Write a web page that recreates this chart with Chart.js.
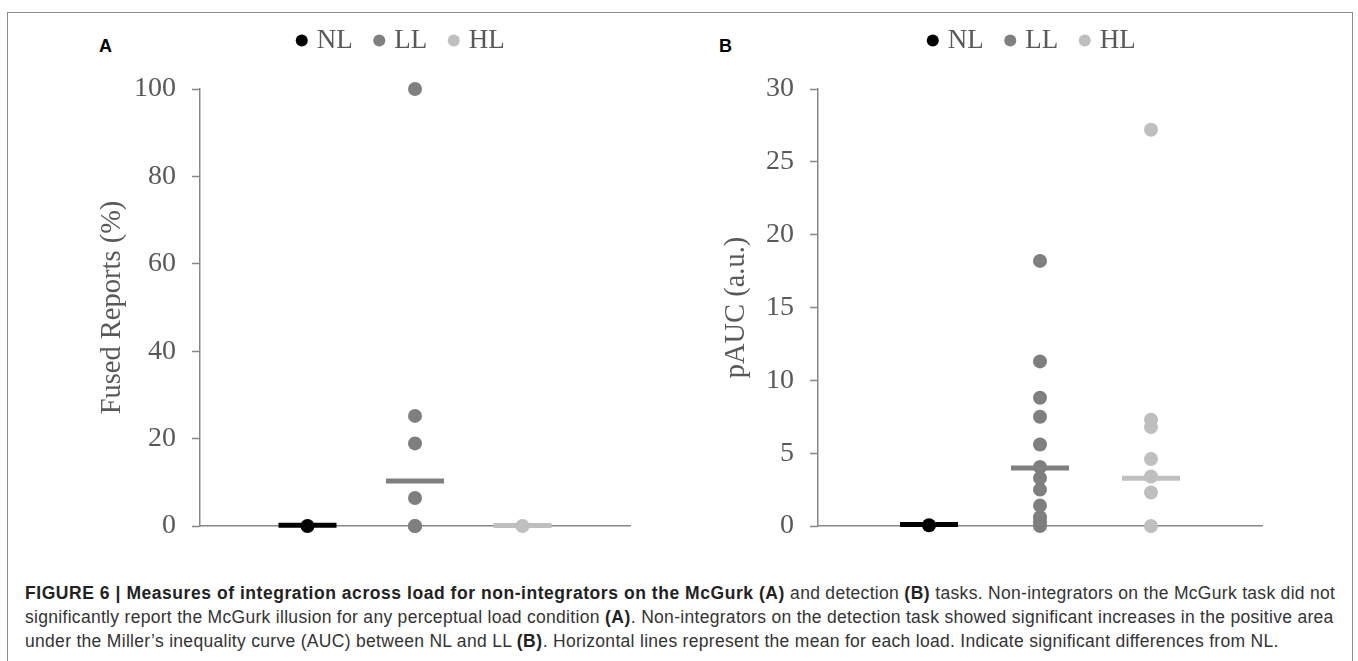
<!DOCTYPE html>
<html>
<head>
<meta charset="utf-8">
<script src="https://cdn.jsdelivr.net/npm/chart.js@4.4.0/dist/chart.umd.min.js"></script>
<style>
  body { margin: 0; width: 1358px; height: 661px; background: #fff; overflow: hidden; position: relative; }
  #frame { position: absolute; left: 7px; top: 12px; width: 1344px; height: 660px;
           border: 1.5px solid #8a8a8a; border-bottom: none; }
  canvas { position: absolute; }
  .panel-label { position: absolute; font: bold 18px "Liberation Sans", Arial, sans-serif; color: #000; }
  #caption { position: absolute; left: 25px; top: 581px; font: 17.5px/24px "Liberation Sans", Arial, sans-serif;
             letter-spacing: 0.3px; color: #333; white-space: nowrap; }
  #caption b { color: #222; letter-spacing: 0.55px; }
</style>
</head>
<body>
<div id="frame"></div>
<div class="panel-label" style="left:99px;top:36px">A</div>
<div class="panel-label" style="left:719px;top:36px">B</div>
<canvas id="chartA" width="625" height="560" style="left:90px;top:0"></canvas>
<canvas id="chartB" width="631" height="560" style="left:718px;top:0"></canvas>
<div id="caption">
  <div><b>FIGURE 6 | Measures of integration across load for non-integrators on the McGurk (A)</b> and detection <b>(B)</b> tasks. Non-integrators on the McGurk task did not</div>
  <div>significantly report the McGurk illusion for any perceptual load condition <b>(A)</b>. Non-integrators on the detection task showed significant increases in the positive area</div>
  <div>under the Miller’s inequality curve (AUC) between NL and LL <b>(B)</b>. Horizontal lines represent the mean for each load. Indicate significant differences from NL.</div>
</div>
<script>
const loads = ['NL', 'LL', 'HL'];
const loadColors = ['#000000', '#7f7f7f', '#bfbfbf'];

// A: McGurk task, fused reports (%)
const fusedNL = [0];
const fusedLL = [100, 25.2, 18.9, 6.4, 0, 0];
const fusedHL = [0];
const fusedMeans = [0.2, 10.3, 0.1];
const fusedTicks = [0, 20, 40, 60, 80, 100];

// B: detection task, pAUC
const aucNL = [0.05];
const aucLL = [18.2, 11.3, 8.8, 7.5, 5.6, 4.05, 3.3, 2.5, 1.4, 0.6, 0.3, 0];
const aucHL = [27.2, 7.3, 6.8, 4.6, 3.4, 2.3, 0];
const aucMeans = [0.1, 3.98, 3.28];
const aucTicks = [0, 5, 10, 15, 20, 25, 30];

const axisColor = '#878787';
const textColor = '#595959';
const serif = 'Liberation Serif';

function makePanel(id, groups, means, ticks, yTitle, yWidth, rightWidth, titlePad) {
  var datasets = []
  // mean lines first so they sit on top of the dots
  means.forEach(function (m, i) {
    datasets.push({
      label: loads[i] + ' mean',
      data: [{x: i + 1, y: m}],
      pointStyle: 'line',
      pointRadius: 29,
      pointHoverRadius: 29,
      pointBorderWidth: 5,
      pointHoverBorderWidth: 5,
      pointBorderColor: loadColors[i],
      pointBackgroundColor: loadColors[i],
      showLine: false,
      clip: false
    })
  })
  groups.forEach(function (vals, i) {
    datasets.push({
      label: loads[i],
      data: vals.map(function (v) { return {x: i + 1, y: v} }),
      pointStyle: 'circle',
      pointRadius: 7,
      pointHoverRadius: 7,
      pointBorderWidth: 0,
      pointBackgroundColor: loadColors[i],
      backgroundColor: loadColors[i],
      borderColor: loadColors[i],
      showLine: false,
      clip: false
    })
  })

  return new Chart(document.getElementById(id), {
    type: 'scatter',
    data: {datasets: datasets},
    options: {
      responsive: false,
      animation: false,
      events: [],
      layout: {padding: {top: 2, left: 0, right: 0, bottom: 0}},
      plugins: {
        tooltip: {enabled: false},
        legend: {
          position: 'top',
          labels: {
            usePointStyle: true,
            boxWidth: 3,
            boxHeight: 8.5,
            padding: 25,
            color: textColor,
            font: {family: serif, size: 27},
            filter: function (item) { return item.datasetIndex >= loads.length }
          }
        },
        // empty title used as a gap between legend and plot
        title: {display: true, text: '', weight: 500, font: {size: 10}, padding: {top: 0, bottom: 13}}
      },
      scales: {
        x: {
          type: 'linear',
          min: 0,
          max: loads.length + 1,
          ticks: {display: false},
          grid: {display: false},
          border: {display: true, color: axisColor, width: 1.5},
          afterFit: function (s) { s.height = 27 }
        },
        y: {
          type: 'linear',
          position: 'left',
          min: ticks[0],
          max: ticks[ticks.length - 1],
          ticks: {stepSize: ticks[1] - ticks[0], color: textColor, padding: 16, font: {family: serif, size: 28}},
          grid: {drawOnChartArea: false, drawTicks: true, tickLength: 8, tickColor: axisColor, tickWidth: 1.5},
          border: {display: true, color: axisColor, width: 1.5},
          title: {display: true, text: yTitle, color: textColor, font: {family: serif, size: 28.5}, padding: {top: titlePad, bottom: 0}},
          afterFit: function (s) { s.width = yWidth }
        },
        pad: {
          type: 'linear',
          position: 'right',
          ticks: {display: false},
          grid: {display: false},
          border: {display: false},
          afterFit: function (s) { s.width = rightWidth }
        }
      }
    }
  });
}

makePanel('chartA', [fusedNL, fusedLL, fusedHL], fusedMeans, fusedTicks, 'Fused Reports (%)', 110, 85, 5.5);
makePanel('chartB', [aucNL, aucLL, aucHL], aucMeans, aucTicks, 'pAUC (a.u.)', 100, 87, 1.5);
</script>
</body>
</html>
